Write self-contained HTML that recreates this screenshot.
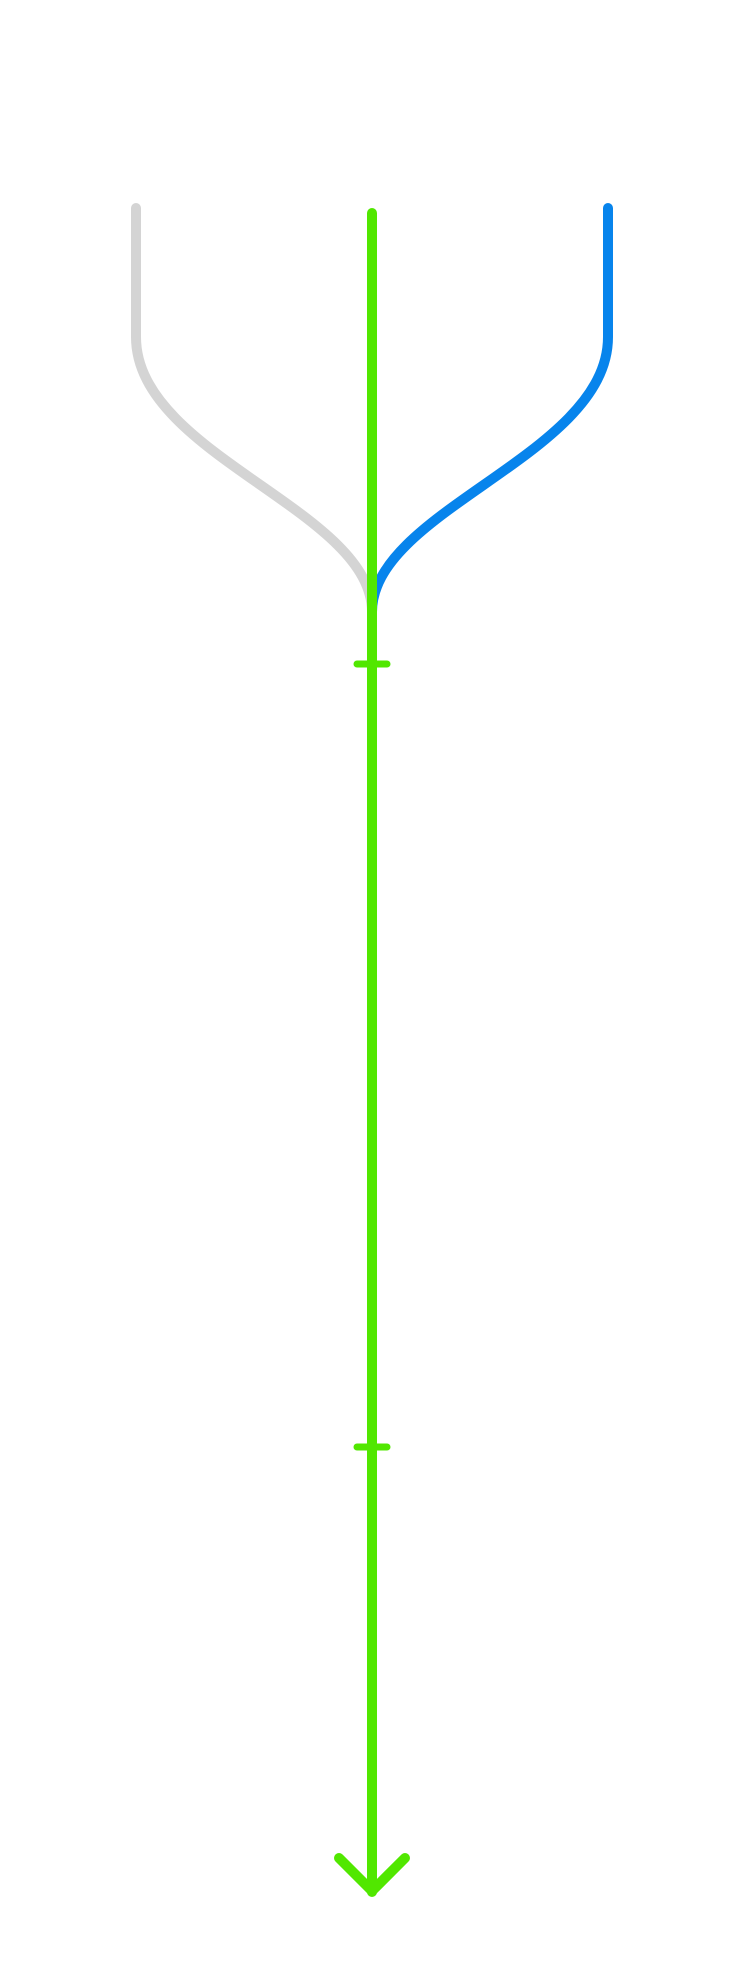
<!DOCTYPE html>
<html><head><style>html,body{margin:0;padding:0;background:#fff}svg{display:block}</style></head>
<body>
<svg width="750" height="1976" viewBox="0 0 750 1976" xmlns="http://www.w3.org/2000/svg">
<g fill="none" stroke-linecap="round" stroke-linejoin="round">
<path d="M136 208 L136 337 C136 455 372 510 372 612" stroke="#d4d4d4" stroke-width="10"/>
<path d="M608 208 L608 337 C608 455 372 510 372 612" stroke="#0784ec" stroke-width="10"/>
<path d="M372 213 L372 1892" stroke="#51e700" stroke-width="10"/>
<path d="M357 664 L387 664 M357 1447 L387 1447" stroke="#51e700" stroke-width="7"/>
<path d="M339 1858 L372 1891 L405 1858" stroke="#51e700" stroke-width="10"/>
</g>
</svg>
</body></html>
